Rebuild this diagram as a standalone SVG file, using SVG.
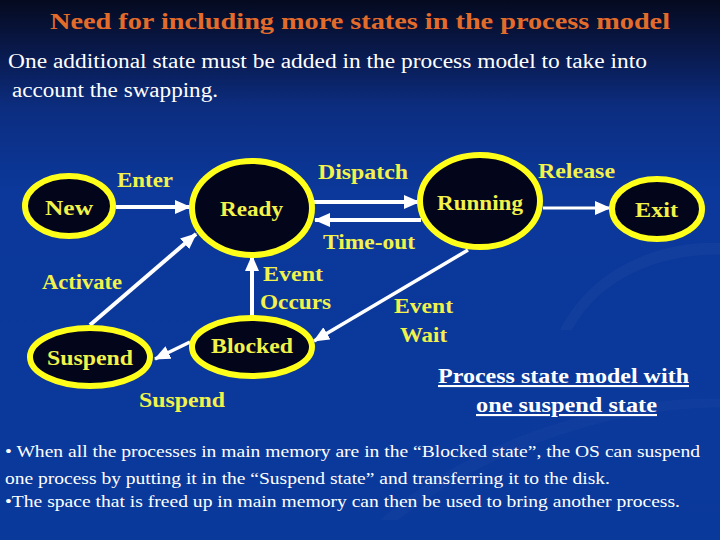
<svg xmlns="http://www.w3.org/2000/svg" width="720" height="540" viewBox="0 0 720 540">
<defs>
<linearGradient id="bg" x1="0" y1="0" x2="0" y2="1">
<stop offset="0" stop-color="#050a1f"/>
<stop offset="0.1" stop-color="#091a4e"/>
<stop offset="0.2" stop-color="#0c2d80"/>
<stop offset="0.35" stop-color="#0b389a"/>
<stop offset="1" stop-color="#0a399c"/>
</linearGradient>
<marker id="ah" markerUnits="userSpaceOnUse" markerWidth="16" markerHeight="14" refX="15" refY="7" orient="auto">
<path d="M0,0 L16,7 L0,14 z" fill="#ffffff"/>
</marker>
<style>
text{font-family:"Liberation Serif","DejaVu Serif","Times New Roman",serif}
.node ellipse{fill:#03061a;stroke:#ffff1a;stroke-width:6}
.lbl{font-weight:bold;font-size:21px;fill:#f2f24a}
.cap{font-weight:bold;font-size:21px;fill:#ffffff;text-decoration:underline}
.body{fill:#ffffff}
.ttl{font-weight:bold;font-size:24px;fill:#e46c2a}
.conn line{stroke:#ffffff;stroke-width:4;marker-end:url(#ah)}
</style>
</defs>
<rect width="720" height="540" fill="url(#bg)"/>
<path d="M560,330 C600,250 700,230 760,250 L760,260 C700,245 610,260 572,330 Z" fill="#ffffff" opacity="0.03"/>
<path d="M380,520 C480,430 640,390 740,400 L740,408 C640,402 500,440 398,520 Z" fill="#ffffff" opacity="0.025"/>

<text class="ttl" x="360" y="29" text-anchor="middle" textLength="620" lengthAdjust="spacingAndGlyphs">Need for including more states in the process model</text>
<text class="body" x="8" y="68" font-size="20" textLength="639" lengthAdjust="spacingAndGlyphs">One additional state must be added in the process model to take into</text>
<text class="body" x="12" y="97" font-size="20" textLength="206" lengthAdjust="spacingAndGlyphs">account the swapping.</text>

<g class="conn" id="connectors">
<line x1="116" y1="207" x2="190" y2="207"/>
<line x1="314" y1="202" x2="419" y2="202"/>
<line x1="421" y1="220" x2="315" y2="220"/>
<line x1="543" y1="208" x2="610" y2="208" style="stroke-width:3"/>
<line x1="90" y1="325" x2="196" y2="234"/>
<line x1="252" y1="316" x2="252" y2="256"/>
<line x1="468" y1="250" x2="314" y2="341" style="stroke-width:3.5"/>
<line x1="190" y1="342" x2="155" y2="359" style="stroke-width:3.5"/>
</g>

<g class="node" id="new"><ellipse cx="69" cy="206" rx="44" ry="30"/><text class="lbl" x="45" y="215" textLength="48" lengthAdjust="spacingAndGlyphs">New</text></g>
<g class="node" id="ready"><ellipse cx="252" cy="208" rx="60" ry="47"/><text class="lbl" x="220" y="216" textLength="63" lengthAdjust="spacingAndGlyphs">Ready</text></g>
<g class="node" id="running"><ellipse cx="480" cy="201" rx="60" ry="46"/><text class="lbl" x="437" y="210" textLength="86" lengthAdjust="spacingAndGlyphs">Running</text></g>
<g class="node" id="exit"><ellipse cx="657" cy="209" rx="45" ry="30"/><text class="lbl" x="635" y="217" textLength="43" lengthAdjust="spacingAndGlyphs">Exit</text></g>
<g class="node" id="suspend"><ellipse cx="90" cy="357" rx="60" ry="29"/><text class="lbl" x="47" y="365" textLength="86" lengthAdjust="spacingAndGlyphs">Suspend</text></g>
<g class="node" id="blocked"><ellipse cx="252" cy="347" rx="60" ry="29"/><text class="lbl" x="211" y="353" textLength="82" lengthAdjust="spacingAndGlyphs">Blocked</text></g>

<g id="labels">
<text class="lbl" x="117" y="187" textLength="56" lengthAdjust="spacingAndGlyphs">Enter</text>
<text class="lbl" x="318" y="179" textLength="90" lengthAdjust="spacingAndGlyphs">Dispatch</text>
<text class="lbl" x="538" y="178" textLength="77" lengthAdjust="spacingAndGlyphs">Release</text>
<text class="lbl" x="323" y="249" textLength="92" lengthAdjust="spacingAndGlyphs">Time-out</text>
<text class="lbl" x="263" y="281" textLength="60" lengthAdjust="spacingAndGlyphs">Event</text>
<text class="lbl" x="260" y="309" textLength="71" lengthAdjust="spacingAndGlyphs">Occurs</text>
<text class="lbl" x="42" y="289" textLength="80" lengthAdjust="spacingAndGlyphs">Activate</text>
<text class="lbl" x="139" y="407" textLength="86" lengthAdjust="spacingAndGlyphs">Suspend</text>
<text class="lbl" x="394" y="313" textLength="59" lengthAdjust="spacingAndGlyphs">Event</text>
<text class="lbl" x="400" y="342" textLength="47" lengthAdjust="spacingAndGlyphs">Wait</text>
<text class="cap" x="438" y="383" textLength="251" lengthAdjust="spacingAndGlyphs">Process state model with</text>
<text class="cap" x="476" y="412" textLength="181" lengthAdjust="spacingAndGlyphs">one suspend state</text>
</g>

<text class="body" x="5" y="457" font-size="17" textLength="695" lengthAdjust="spacingAndGlyphs">• When all the processes in main memory are in the “Blocked state”, the OS can suspend</text>
<text class="body" x="5" y="484" font-size="17" textLength="605" lengthAdjust="spacingAndGlyphs">one process by putting it in the “Suspend state” and transferring it to the disk.</text>
<text class="body" x="5" y="507" font-size="17" textLength="675" lengthAdjust="spacingAndGlyphs">•The space that is freed up in main memory can then be used to bring another process.</text>
</svg>
